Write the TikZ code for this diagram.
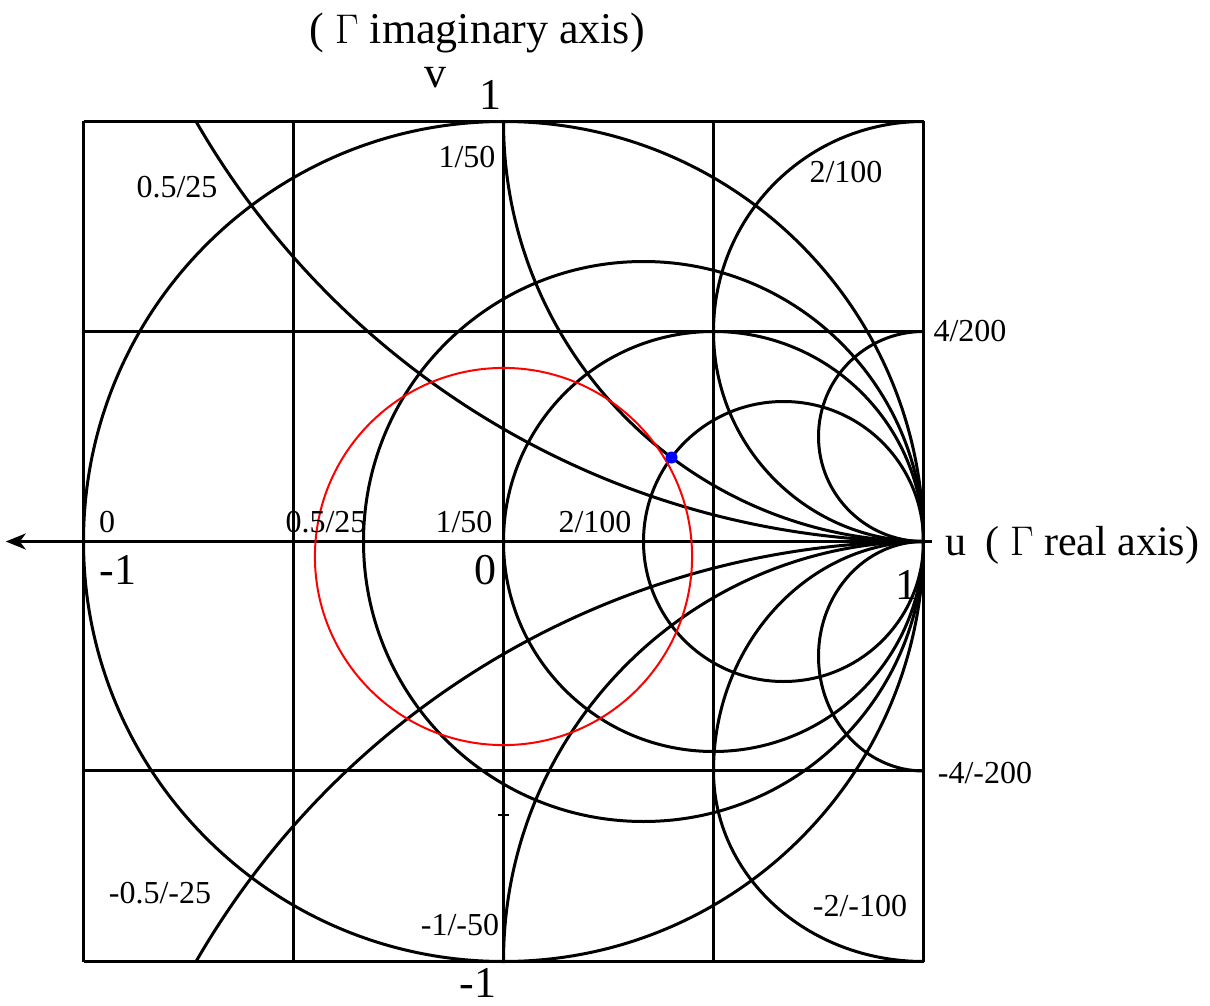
\documentclass[tikz,border=0pt]{standalone}
\usepackage{fontspec}
\setmainfont{Liberation Serif}
\usetikzlibrary{arrows.meta}
\begin{document}
\begin{tikzpicture}[x=0.5pt,y=-0.5pt,
  chart/.style={line width=1.5pt, black},
  redcirc/.style={line width=1pt, red},
  axisline/.style={line width=1.6pt, black, -{Stealth[length=10pt,width=8pt,inset=3pt]}},
  lab/.style={font=\fontsize{16}{16}\selectfont, inner sep=0pt},
  biglab/.style={font=\fontsize{22}{22}\selectfont, inner sep=0pt}]
\useasboundingbox (0,0) rectangle (1210,1006);
\begin{scope}[shift={(503.5,541.5)}, x=210pt, y=210pt]
  % grid
  \foreach \u in {-1,-0.5,0,0.5,1} \draw[chart] (\u,-1) -- (\u,1);
  \draw[chart] (-1,1) -- (1,1);
  \draw[chart] (-1,0.5) -- (1,0.5);
  \draw[chart] (-1,-0.5464) -- (1,-0.5464);
  \draw[chart] (-1,-1) -- (1,-1);
  % resistance circles
  \draw[chart] (0,0) circle[radius=1];
  \draw[chart] (1/3,0) circle[radius=2/3];
  \draw[chart] (0.5,0) circle[radius=0.5];
  \draw[chart] (2/3,0) circle[radius=1/3];
  % positive reactance arcs
  \draw[chart] (1,0) arc[start angle=270, end angle=210, radius=2];
  \draw[chart] (1,0) arc[start angle=270, end angle=180, radius=1];
  \draw[chart] (1,0) arc[start angle=270, end angle=90, radius=0.5];
  \draw[chart] (1,0) arc[start angle=270, end angle=90, radius=0.25];
  % negative reactance arcs
  \draw[chart] (1,0) arc[start angle=90, end angle=150, radius=2];
  \draw[chart] (1,0) arc[start angle=90, end angle=180, radius=1];
  \draw[chart] (1,0) arc[start angle=90, end angle=180, x radius=0.5, y radius=0.5464]
                     arc[start angle=180, end angle=270, x radius=0.5, y radius=0.4536];
  \draw[chart] (1,0) arc[start angle=90, end angle=270, x radius=0.25, y radius=0.2732];
  % axis with arrow
  \coordinate (axR) at (1.02,0);
  \coordinate (axL) at (-1.185,0);
  \draw[axisline] (axR) -- (axL);
  % small tick
  \draw[line width=1pt] (-0.012,-0.65) -- (0.012,-0.65);
  % constant |Gamma| circle and point
  \draw[redcirc] (0,-0.0357) circle[radius=0.449];
  \fill[blue] (0.4,0.2) circle[radius=3pt];
\end{scope}
% labels
\node[biglab, anchor=base] (timag) at (477,44) {( \(\Gamma\) imaginary axis)};
\node[biglab, anchor=base] (tv) at (435,88) {v};
\node[biglab, anchor=base] (top1) at (490,110) {1};
\node[lab] (l05) at (177,187) {0.5/25};
\node[lab] (l1) at (467,157) {1/50};
\node[lab] (l2) at (846,172) {2/100};
\node[lab] (l4) at (970,331) {4/200};
\node[lab] (r0) at (107,522) {0};
\node[lab] (r05) at (326,522) {0.5/25};
\node[lab] (r1) at (464,522) {1/50};
\node[lab] (r2) at (595,522) {2/100};
\node[biglab] (m1) at (118,570) {-1};
\node[biglab] (c0) at (485,570) {0};
\node[biglab] (p1) at (906,585) {1};
\node[font=\fontsize{21}{21}\selectfont, inner sep=0pt, anchor=base west] (treal) at (945,555) {u\hspace{0.2em} ( \(\Gamma\) real axis)};
\node[lab] (lm4) at (985,773) {-4/-200};
\node[lab] (lm05) at (160,893) {-0.5/-25};
\node[lab] (lm1) at (460,925) {-1/-50};
\node[lab] (lm2) at (860,906) {-2/-100};
\node[biglab, anchor=base] (bm1) at (478,997) {-1};
\end{tikzpicture}
\end{document}
